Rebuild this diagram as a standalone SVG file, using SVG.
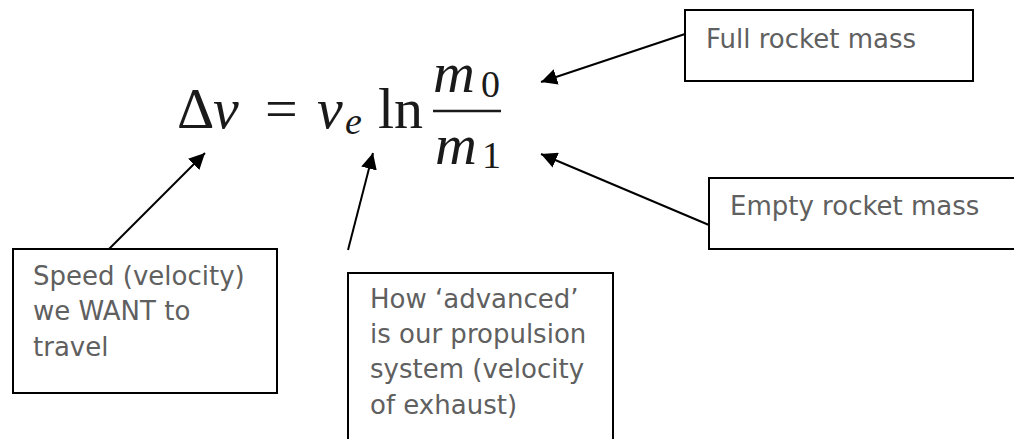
<svg xmlns="http://www.w3.org/2000/svg" width="1014" height="439" viewBox="0 0 1014 439">
<style>
.box{fill:#fff;stroke:#000;stroke-width:2}
.lbl{font-family:"DejaVu Sans","Liberation Sans",sans-serif;font-size:26px;fill:#606060}
.math{font-family:"Liberation Serif","DejaVu Serif",serif;fill:#1a1a1a}
.it{font-style:italic}
.conn{stroke:#000;stroke-width:2;fill:none;marker-end:url(#ah)}
</style>
<defs>
<marker id="ah" markerUnits="userSpaceOnUse" markerWidth="18" markerHeight="16" refX="16" refY="8" orient="auto">
<path d="M0,0 L16,8 L0,16 Z" fill="#000"/>
</marker>
</defs>
<rect width="1014" height="439" fill="#fff"/>
<g id="formula" class="math">
<text x="177" y="128" font-size="58">Δ</text>
<text x="213" y="128" font-size="58" class="it">v</text>
<text x="265" y="128" font-size="58">=</text>
<text x="317" y="128" font-size="58" class="it">v</text>
<text x="345" y="134" font-size="38" class="it">e</text>
<text x="378" y="128" font-size="58">ln</text>
<text x="433" y="92" font-size="58" class="it">m</text>
<text x="481" y="97" font-size="38">0</text>
<line x1="433" y1="111" x2="501" y2="111" stroke="#1a1a1a" stroke-width="2.5"/>
<text x="435" y="164" font-size="58" class="it">m</text>
<text x="482" y="168" font-size="38">1</text>
</g>
<g id="full">
<rect class="box" x="685" y="10" width="288" height="71"/>
<text class="lbl" x="706" y="48">Full rocket mass</text>
</g>
<g id="empty">
<rect class="box" x="709" y="178" width="320" height="71"/>
<text class="lbl" x="730" y="215">Empty rocket mass</text>
</g>
<g id="speed">
<rect class="box" x="13" y="249" width="264" height="144"/>
<text class="lbl" x="33" y="285">Speed (velocity)</text>
<text class="lbl" x="33" y="320">we WANT to</text>
<text class="lbl" x="33" y="356">travel</text>
</g>
<g id="advanced">
<rect class="box" x="348" y="273" width="265" height="180"/>
<text class="lbl" x="370" y="308">How ‘advanced’</text>
<text class="lbl" x="370" y="343">is our propulsion</text>
<text class="lbl" x="370" y="378">system (velocity</text>
<text class="lbl" x="370" y="414">of exhaust)</text>
</g>
<g id="connectors">
<line class="conn" x1="109" y1="249" x2="205" y2="153"/>
<line class="conn" x1="348" y1="250" x2="373" y2="153"/>
<line class="conn" x1="685" y1="34" x2="541" y2="82"/>
<line class="conn" x1="709" y1="225" x2="541" y2="154"/>
</g>
</svg>
